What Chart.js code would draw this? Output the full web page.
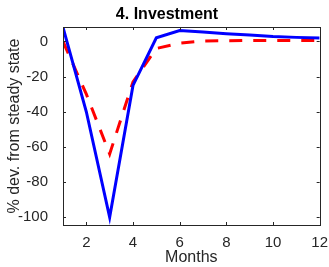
<!DOCTYPE html>
<html>
<head>
<meta charset="utf-8">
<script src="https://cdn.jsdelivr.net/npm/chart.js@4.4.1/dist/chart.umd.min.js"></script>
<style>
  html, body { margin: 0; padding: 0; background: #fff; }
  #wrap { width: 329px; height: 267px; }
</style>
</head>
<body>
<div id="wrap"><canvas id="chart" width="329" height="267"></canvas></div>
<script>
// Impulse response: investment, % deviation from steady state
const months = [1, 2, 3, 4, 5, 6, 7, 8, 9, 10, 11, 12];
const solidSeries = [8, -40, -100, -25, 2.1, 6.2, 5.3, 4.4, 3.6, 2.8, 2.3, 1.9];
const dashedSeries = [0, -30, -64, -23, -4, -1, 0.2, 0.4, 0.5, 0.5, 0.5, 0.5];
const xTicks = [2, 4, 6, 8, 10, 12];
const yTicks = [-100, -80, -60, -40, -20, 0];
const chartTitle = '4. Investment';
const xLabel = 'Months';
const yLabel = '% dev. from steady state';

const axisColor = '#262626';
const fontFamily = '"Liberation Sans", Arial, Helvetica, sans-serif';

// box around the axes plus inward tick marks on all four sides
const frameTicks = {
  id: 'frameTicks',
  afterDatasetsDraw(chart) {
    const { ctx, chartArea: a, scales } = chart;
    const len = 3;
    ctx.save();
    ctx.strokeStyle = axisColor;
    ctx.lineWidth = 1;
    ctx.beginPath();
    xTicks.forEach(v => {
      const x = Math.round(scales.x.getPixelForValue(v)) + 0.5;
      ctx.moveTo(x, a.bottom); ctx.lineTo(x, a.bottom - len);
      ctx.moveTo(x, a.top); ctx.lineTo(x, a.top + len);
    });
    yTicks.forEach(v => {
      const y = Math.round(scales.y.getPixelForValue(v)) + 0.5;
      ctx.moveTo(a.left, y); ctx.lineTo(a.left + len, y);
      ctx.moveTo(a.right, y); ctx.lineTo(a.right - len, y);
    });
    ctx.stroke();
    ctx.strokeRect(Math.round(a.left) + 0.5, Math.round(a.top) + 0.5,
      Math.round(a.right - a.left), Math.round(a.bottom - a.top));
    // title
    ctx.fillStyle = '#000';
    ctx.font = 'bold 16px ' + fontFamily;
    ctx.textAlign = 'center';
    ctx.textBaseline = 'middle';
    ctx.fillText(chartTitle, 167, 15);
    ctx.restore();
  }
};

new Chart(document.getElementById('chart'), {
  type: 'line',
  data: {
    datasets: [
      {
        data: months.map((m, i) => ({ x: m, y: solidSeries[i] })),
        borderColor: '#0000ff',
        borderWidth: 3,
        pointRadius: 0,
        tension: 0,
        fill: false
      },
      {
        data: months.map((m, i) => ({ x: m, y: dashedSeries[i] })),
        borderColor: '#ff0000',
        borderWidth: 3,
        borderDash: [13, 11],
        pointRadius: 0,
        tension: 0,
        fill: false
      }
    ]
  },
  options: {
    responsive: false,
    animation: false,
    devicePixelRatio: 1,
    layout: { padding: { top: 27, right: 9, left: 0, bottom: 0 } },
    plugins: {
      legend: { display: false },
      tooltip: { enabled: false }
    },
    scales: {
      x: {
        type: 'linear',
        min: 1,
        max: 12,
        grid: { display: false },
        border: { display: false },
        afterBuildTicks: s => { s.ticks = xTicks.map(v => ({ value: v })); },
        afterFit: s => { s.height = 42; },
        ticks: {
          color: axisColor,
          font: { family: fontFamily, size: 15 },
          padding: 1,
          maxRotation: 0
        },
        title: {
          display: true,
          text: xLabel,
          color: axisColor,
          font: { family: fontFamily, size: 16 },
          padding: { top: 0, bottom: 0 }
        }
      },
      y: {
        type: 'linear',
        min: -104.4,
        max: 8.2,
        grid: { display: false },
        border: { display: false },
        afterBuildTicks: s => { s.ticks = yTicks.map(v => ({ value: v })); },
        afterFit: s => { s.width = 63; },
        ticks: {
          color: axisColor,
          font: { family: fontFamily, size: 15 },
          padding: 7
        },
        title: {
          display: true,
          text: yLabel,
          color: axisColor,
          font: { family: fontFamily, size: 16 },
          padding: { top: 5.4, bottom: 0 }
        }
      }
    }
  },
  plugins: [frameTicks]
});
</script>
</body>
</html>
